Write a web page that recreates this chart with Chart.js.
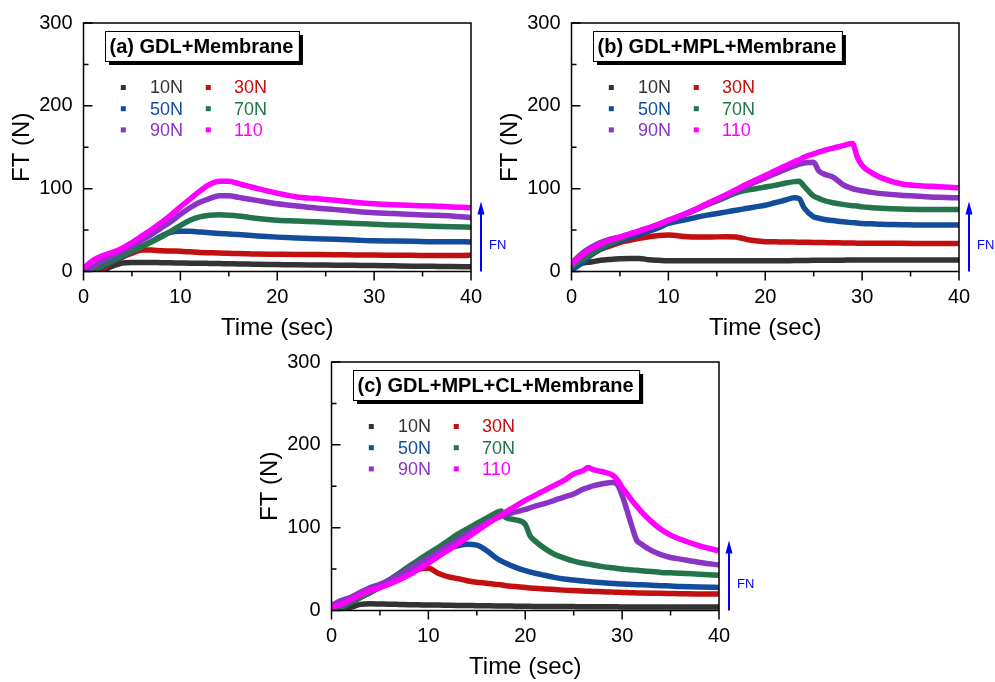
<!DOCTYPE html>
<html>
<head>
<meta charset="utf-8">
<title>FT vs time</title>
<script src="https://cdn.jsdelivr.net/npm/chart.js@4.4.0/dist/chart.umd.min.js"></script>
<style>
  html, body { margin: 0; padding: 0; background: #fff; }
  body { width: 995px; height: 682px; position: relative; overflow: hidden; }
  canvas { position: absolute; }
  #chartA { left: 0; top: 0; }
  #chartB { left: 488px; top: 0; }
  #chartC { left: 248px; top: 339px; }
</style>
</head>
<body>
<canvas id="chartA" width="520" height="345"></canvas>
<canvas id="chartB" width="520" height="345"></canvas>
<canvas id="chartC" width="520" height="345"></canvas>
<script>
// Series names and colours (same for the three panels)
const seriesLabels = ['10N', '30N', '50N', '70N', '90N', '110'];
const seriesColors = ['#333333', '#c20f0f', '#144c9c', '#23744a', '#8a33c4', '#ff00ff'];

// Axis ticks
const xTicks = [0, 10, 20, 30, 40];
const yTicks = [0, 100, 200, 300];

// (a) GDL+Membrane
const timeA = [0, 1, 2, 3, 4, 5, 6, 7, 8, 9, 10, 11, 12, 13, 14, 15, 16, 17, 18, 20, 22, 24, 26, 28, 30, 32, 34, 36, 38, 40];
const a10 = [null, 0, 1.8, 6.4, 10.3, 11, 11, 10.9, 10.7, 10.5, 10.3, 10.1, 10, 9.8, 9.6, 9.4, 9.2, 9, 8.8, 8.4, 8, 7.8, 7.6, 7.4, 7.2, 6.8, 6.4, 6.2, 6, 5.7];
const a30 = [null, 0, 3.7, 11.5, 17.3, 22, 26, 26, 25, 24.7, 24.4, 23.7, 23, 22.7, 22.4, 22, 21.6, 21.3, 21, 20.8, 20.6, 20.5, 20.3, 20, 19.9, 19.7, 19.5, 19.3, 19.4, 19.5];
const a50 = [null, 0, 6.4, 12, 18, 24.4, 30, 36, 42.7, 47.4, 48.5, 48.5, 47.7, 46.8, 46, 45.3, 44.6, 43.8, 43, 41.5, 40.4, 39.6, 38.8, 38, 37, 36.8, 36.5, 36, 36, 35.7];
const a70 = [null, 0, 7.6, 13.5, 19.3, 24.4, 30, 35.7, 41.5, 48.5, 55.5, 62, 66, 68, 68.5, 68, 67, 65.5, 64, 62, 61, 60, 59, 58, 57, 56, 55.5, 54.7, 54, 53.5];
const a90 = [0, 5.7, 13.5, 19.3, 25, 31, 37.6, 44.6, 52.4, 60, 69, 77, 83.6, 88, 91.4, 91.4, 89.5, 87.5, 85.6, 81.7, 79, 76.6, 74.7, 72.7, 71, 70, 68.8, 68, 67, 65];
const a110 = [3.7, 13.5, 19.3, 23, 28, 35, 42.7, 50.5, 59, 68, 78, 87.5, 97, 105, 109, 109, 106, 103, 100, 94.5, 90, 88, 86, 83.6, 81.7, 80.5, 79.7, 79, 78, 77];

// (b) GDL+MPL+Membrane
const timeB = [0, 1, 2, 3, 4, 5, 6, 7, 8, 9, 10, 12, 14, 16, 17, 18, 19, 20, 21, 22, 23, 23.5, 24, 25, 25.5, 26, 27, 28, 29, 29.5, 30, 31, 32, 34, 36, 38, 40];
const b10 = [2, 9.6, 11.5, 13.5, 14.6, 15.4, 15.8, 15.8, 14.2, 13.5, 13, 13, 13, 13, 13, 13, 13, 13, 13, 13, 13.2, 13.2, 13.3, 13.5, 13.5, 13.5, 13.6, 13.7, 13.8, 13.8, 13.8, 13.8, 13.8, 13.8, 13.9, 14, 14];
const b30 = [3.7, 11.5, 21, 27, 31, 35, 37.6, 40, 42, 43.5, 44, 42, 41.6, 42, 41.6, 39, 37, 36, 35.8, 35.7, 35.5, 35.4, 35.3, 35, 35, 34.9, 34.7, 34.5, 34.3, 34.2, 34, 34, 34, 34, 33.9, 33.8, 33.8];
const b50 = [2, 9.6, 19.5, 27, 33, 37, 41, 44.6, 48.6, 53, 58, 63, 68, 72, 74, 76, 78, 80, 83, 86, 89, 88, 77, 66, 64.5, 63, 61.5, 60, 59, 58.5, 58, 57.5, 57, 56.5, 56, 56, 56];
const b70 = [5.7, 13.5, 21, 29, 34, 39, 44, 48.6, 52.5, 57, 61, 71, 80.5, 90, 95, 98, 100, 102, 104, 106.5, 108.5, 109, 103, 91, 88.5, 86, 83, 81, 79.5, 79, 78, 77, 76.3, 75.4, 75, 75, 75];
const b90 = [9.6, 21, 29, 35, 39, 41.5, 45, 48.5, 52.5, 56.5, 61, 70.5, 81, 92, 97.5, 103, 108, 113, 118, 123, 127.5, 129.5, 131, 132, 122, 118, 114, 105, 100, 98.5, 97.5, 95.5, 94, 92, 90.7, 89.5, 89];
const b110 = [7.6, 19, 27, 33, 38, 41.5, 45.5, 49, 53, 57, 62, 71, 82, 93, 99, 105, 110.5, 116, 121.5, 127, 132.5, 135, 138, 142, 144, 146, 149, 152, 154.6, 138, 128, 119, 113, 106, 103.6, 102.4, 101];

// (c) GDL+MPL+CL+Membrane
const timeC = [0, 1, 2, 3, 4, 5, 6, 7, 8, 9, 10, 11, 12, 13, 14, 15, 16, 17, 17.5, 18, 19, 20, 20.5, 21, 22, 23, 24, 25, 26, 26.5, 27, 28, 29, 29.5, 30, 30.5, 31, 31.5, 32, 33, 34, 35, 36, 38, 40];
const c10 = [1, 1, 4, 7.4, 8, 7.8, 7.6, 7.3, 7, 6.8, 6.6, 6.5, 6.3, 6.1, 6, 5.8, 5.7, 5.5, 5.5, 5.4, 5.2, 5, 5, 4.9, 4.9, 4.8, 4.8, 4.7, 4.6, 4.6, 4.5, 4.5, 4.4, 4.4, 4.3, 4.3, 4.3, 4.3, 4.3, 4.3, 4.3, 4.3, 4.3, 4.3, 4.3];
const c30 = [2, 4, 10, 16, 22, 28, 34, 40, 45, 50, 51, 45, 41, 38.6, 36, 34, 33, 31.5, 31, 30, 29, 27.7, 27.2, 26.8, 26, 25.3, 24.6, 24, 23.4, 23.2, 23, 22.6, 22.2, 22, 21.8, 21.6, 21.4, 21.2, 21, 20.8, 20.7, 20.5, 20.3, 20, 20];
const c50 = [2, 4, 10, 16, 22, 29.6, 37, 45, 53, 59.6, 64.7, 70.6, 74.5, 78, 80, 79, 72.5, 63.5, 60, 57, 52, 48, 46.5, 45, 42.5, 40, 38, 36.8, 35.5, 35, 34.5, 33.5, 32.7, 32.3, 32, 31.7, 31.5, 31.2, 31, 30.5, 30, 29.5, 29, 28.5, 27.7];
const c70 = [2.3, 4, 10, 16, 22, 29.6, 37, 45, 53, 61, 68.6, 76, 84, 92, 98.6, 105, 111.5, 118, 120, 112, 109.5, 104, 90, 84, 75, 68, 63.5, 59.6, 57, 56, 55, 53, 51.5, 50.8, 50, 49.5, 49, 48.5, 48, 47, 46, 45.5, 45, 43.7, 42.5];
const c90 = [6, 12, 16, 22, 27.7, 31.6, 37, 43, 50, 57, 63.5, 70.6, 78, 85, 93, 100, 105.6, 111.5, 114, 116, 119, 122, 124, 126, 129, 133, 137, 140.7, 146.6, 148.5, 150.5, 153, 154.4, 152, 139, 121, 102, 85, 80, 72.5, 67.4, 64, 62, 58, 55];
const c110 = [4, 7.4, 13, 19, 24, 27.7, 32, 37, 43, 50, 57, 65, 72.5, 80, 88, 96, 104, 111.5, 115, 119, 126, 133, 136, 139, 145, 151, 157, 165, 169, 172.5, 170, 167.5, 163.5, 158, 148.5, 141, 133, 126, 119, 107.6, 98, 91, 86, 78, 72];

const FONT = "'Liberation Sans', Arial, sans-serif";
Chart.defaults.font.family = FONT;
Chart.defaults.color = '#000';

// Origin-like decorations: frame, ticks, boxed title, inside legend, FN arrow
const originStyle = {
    id: 'originStyle',
    afterDatasetsDraw(chart) {
        const { ctx, chartArea: a, scales: { x, y } } = chart;
        ctx.save();
        ctx.strokeStyle = '#000';
        ctx.lineWidth = 1.5;
        ctx.strokeRect(a.left, a.top, a.right - a.left, a.bottom - a.top);

        ctx.beginPath();
        // y ticks point inward, x ticks point outward
        yTicks.forEach((v, i) => {
            const py = y.getPixelForValue(v);
            ctx.moveTo(a.left, py); ctx.lineTo(a.left + 9, py);
            if (i > 0) {
                const pm = y.getPixelForValue((v + yTicks[i - 1]) / 2);
                ctx.moveTo(a.left, pm); ctx.lineTo(a.left + 5, pm);
            }
        });
        xTicks.forEach((v, i) => {
            const px = x.getPixelForValue(v);
            ctx.moveTo(px, a.bottom); ctx.lineTo(px, a.bottom + 9);
            if (i > 0) {
                const pm = x.getPixelForValue((v + xTicks[i - 1]) / 2);
                ctx.moveTo(pm, a.bottom); ctx.lineTo(pm, a.bottom + 5);
            }
        });
        ctx.stroke();
        ctx.restore();
    },
    afterDraw(chart, args, opts) {
        const { ctx, chartArea: a } = chart;
        ctx.save();

        // boxed panel title with shadow
        ctx.font = 'bold 20px ' + FONT;
        const tw = ctx.measureText(opts.title).width;
        const bx = a.left + 21.5, by = a.top + 8, bw = tw + 10, bh = 30;
        ctx.fillStyle = '#000';
        ctx.fillRect(bx + 4, by + 4, bw, bh);
        ctx.fillStyle = '#fff';
        ctx.fillRect(bx, by, bw, bh);
        ctx.strokeStyle = '#000';
        ctx.lineWidth = 1;
        ctx.strokeRect(bx + 0.5, by + 0.5, bw, bh);
        ctx.fillStyle = '#000';
        ctx.textBaseline = 'middle';
        ctx.fillText(opts.title, bx + 4.5, by + bh / 2 + 1);

        // legend: two columns, three rows
        ctx.font = '18px ' + FONT;
        chart.data.datasets.forEach((ds, i) => {
            const col = i % 2, row = Math.floor(i / 2);
            const sx = a.left + (col === 0 ? 39.8 : 124.8);
            const sy = a.top + 64.5 + row * 21.2;
            ctx.fillStyle = ds.borderColor;
            ctx.fillRect(sx - 2.5, sy - 2.5, 5, 5);
            ctx.fillText(ds.label, a.left + (col === 0 ? 66.5 : 150.5), sy + 1);
        });

        // FN arrow
        const ax = a.right + 10, ay0 = a.bottom, ay1 = a.bottom - 70;
        ctx.strokeStyle = ctx.fillStyle = '#0000ff';
        ctx.lineWidth = 2;
        ctx.beginPath();
        ctx.moveTo(ax, ay0); ctx.lineTo(ax, ay1 + 10);
        ctx.stroke();
        ctx.beginPath();
        ctx.moveTo(ax, ay1); ctx.lineTo(ax - 3.5, ay1 + 13); ctx.lineTo(ax + 3.5, ay1 + 13);
        ctx.closePath();
        ctx.fill();
        ctx.font = '13px ' + FONT;
        ctx.fillText('FN', ax + 8, a.bottom - 26);
        ctx.restore();
    }
};

function makePanel(canvasId, title, time, series) {
    const datasets = series.map((values, i) => ({
        label: seriesLabels[i],
        data: values.map((v, k) => ({ x: time[k], y: v })),
        borderColor: seriesColors[i],
        backgroundColor: seriesColors[i],
        borderWidth: 5.5,
        pointRadius: 0,
        fill: false,
        cubicInterpolationMode: 'monotone',
        order: series.length - 1 - i
    }));

    return new Chart(document.getElementById(canvasId), {
        type: 'line',
        data: { datasets: datasets },
        options: {
            responsive: false,
            animation: false,
            devicePixelRatio: 1,
            layout: { padding: { top: 15, right: 49, bottom: 0, left: 0 } },
            plugins: {
                legend: { display: false },
                tooltip: { enabled: false },
                originStyle: { title: title }
            },
            scales: {
                x: {
                    type: 'linear',
                    min: 0,
                    max: 40,
                    afterBuildTicks: s => { s.ticks = xTicks.map(v => ({ value: v })); },
                    afterFit: s => { s.height = 73.5; },
                    grid: { display: false, drawTicks: false },
                    border: { display: false },
                    ticks: { font: { size: 20 }, padding: 13.5, color: '#000' },
                    title: { display: true, text: 'Time (sec)', font: { size: 24 }, padding: { top: 0, bottom: 2.6 }, color: '#000' }
                },
                y: {
                    min: 0,
                    max: 300,
                    afterBuildTicks: s => { s.ticks = yTicks.map(v => ({ value: v })); },
                    afterFit: s => { s.width = 83.5; },
                    grid: { display: false, drawTicks: false },
                    border: { display: false },
                    ticks: { font: { size: 20 }, padding: 11, color: '#000' },
                    title: { display: true, text: 'FT (N)', font: { size: 24 }, padding: { top: 7.6, bottom: 0 }, color: '#000' }
                }
            }
        },
        plugins: [originStyle]
    });
}

makePanel('chartA', '(a) GDL+Membrane', timeA, [a10, a30, a50, a70, a90, a110]);
makePanel('chartB', '(b) GDL+MPL+Membrane', timeB, [b10, b30, b50, b70, b90, b110]);
makePanel('chartC', '(c) GDL+MPL+CL+Membrane', timeC, [c10, c30, c50, c70, c90, c110]);
</script>
</body>
</html>
